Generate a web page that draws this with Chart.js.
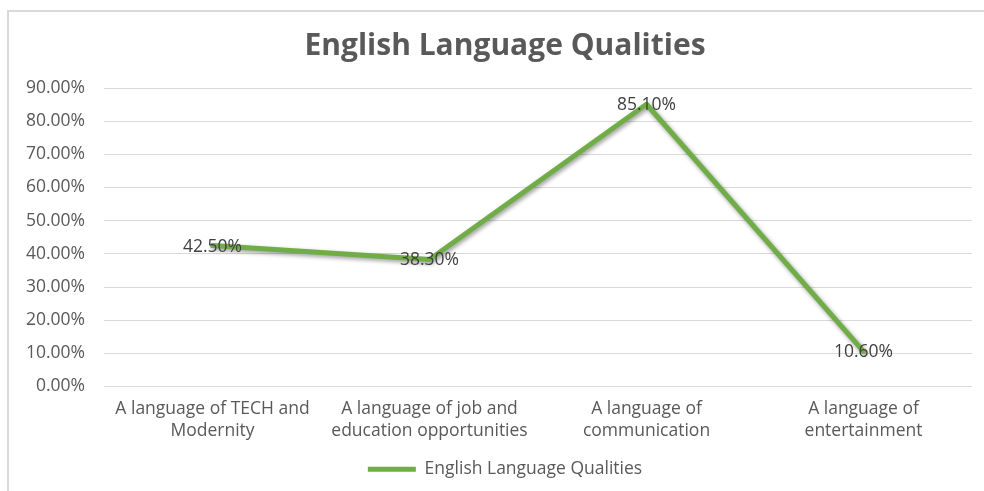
<!DOCTYPE html>
<html>
<head>
<meta charset="utf-8">
<script src="https://cdn.jsdelivr.net/npm/chart.js@4/dist/chart.umd.min.js"></script>
<style>
  html, body { margin: 0; padding: 0; background: #ffffff; }
  #frame {
    position: absolute; left: 7px; top: 10px; width: 1000px; height: 500px;
    border-left: 2px solid #d9d9d9; border-top: 2px solid #d9d9d9;
  }
  #wrap { position: absolute; left: 0; top: 0; width: 984px; height: 491px; }
</style>
</head>
<body>
<div id="frame"></div>
<div id="wrap"><canvas id="grafico" width="984" height="491"></canvas></div>
<script>
// Dados do grafico
const categorias = [
  ['A language of TECH and', 'Modernity'],
  ['A language of job and', 'education opportunities'],
  ['A language of', 'communication'],
  ['A language of', 'entertainment']
];
const valores = [42.5, 38.3, 85.1, 10.6];
const nomeSerie = 'English Language Qualities';
const tituloGrafico = 'English Language Qualities';

const cinza = '#595959';
const verde = '#70ad47';
const fonte = '"Open Sans", "Liberation Sans", sans-serif';

// sombra da linha (antes / depois de desenhar a serie)
const sombraLinha = {
  id: 'sombraLinha',
  beforeDatasetDraw(chart) {
    const ctx = chart.ctx;
    ctx.save();
    ctx.shadowColor = 'rgba(0,0,0,0.4)';
    ctx.shadowBlur = 4;
    ctx.shadowOffsetX = 1.5;
    ctx.shadowOffsetY = 2;
  },
  afterDatasetDraw(chart) {
    chart.ctx.restore();
  }
};

// rotulos de valor centrados em cada ponto
const rotulos = {
  id: 'rotulos',
  afterDatasetsDraw(chart) {
    const ctx = chart.ctx;
    const meta = chart.getDatasetMeta(0);
    ctx.save();
    ctx.font = '17.5px ' + fonte;
    ctx.fillStyle = '#404040';
    ctx.textAlign = 'center';
    ctx.textBaseline = 'middle';
    meta.data.forEach((pt, i) => {
      ctx.fillText(valores[i].toFixed(2) + '%', pt.x, pt.y + 1);
    });
    ctx.restore();
  }
};

// deixa os rotulos do eixo y passarem da margem esquerda sem corte
const eixoLivre = {
  id: 'eixoLivre',
  afterLayout(chart) {
    chart.scales.y.left = 0;
  }
};

window.addEventListener('load', () => {
  const ctx = document.getElementById('grafico').getContext('2d');
  new Chart(ctx, {
    type: 'line',
    data: {
      labels: categorias,
      datasets: [{
        label: nomeSerie,
        data: valores,
        borderColor: verde,
        backgroundColor: verde,
        borderWidth: 5,
        borderJoinStyle: 'round',
        borderCapStyle: 'round',
        pointRadius: 0,
        pointHoverRadius: 0,
        tension: 0,
        clip: false
      }]
    },
    options: {
      responsive: false,
      animation: false,
      devicePixelRatio: 1,
      layout: { padding: { left: 38, right: 12, top: 0, bottom: 3 } },
      plugins: {
        title: {
          display: true,
          text: tituloGrafico,
          color: cinza,
          font: { family: fonte, size: 30, weight: 'bold', lineHeight: 1.2 },
          padding: { top: 28, bottom: 24 }
        },
        legend: {
          position: 'bottom',
          labels: {
            color: cinza,
            font: { family: fonte, size: 17.5 },
            usePointStyle: true,
            pointStyle: 'line',
            pointStyleWidth: 48,
            boxHeight: 17,
            padding: 10
          }
        },
        tooltip: { enabled: false }
      },
      scales: {
        x: {
          offset: true,
          grid: { display: false, drawTicks: false },
          border: { display: false },
          ticks: {
            color: cinza,
            font: { family: fonte, size: 17.5, lineHeight: 1.25 },
            padding: 12,
            maxRotation: 0,
            autoSkip: false
          },
          afterFit(scale) { scale.height = 64; }
        },
        y: {
          min: 0,
          max: 90,
          grid: { color: '#d9d9d9', lineWidth: 1, drawTicks: false },
          border: { display: false },
          ticks: {
            stepSize: 10,
            color: cinza,
            font: { family: fonte, size: 17.5 },
            padding: 19,
            callback: (v) => v.toFixed(2) + '%'
          },
          afterFit(scale) { scale.width = 66; }
        }
      }
    },
    plugins: [sombraLinha, rotulos, eixoLivre]
  });
});
</script>
</body>
</html>
